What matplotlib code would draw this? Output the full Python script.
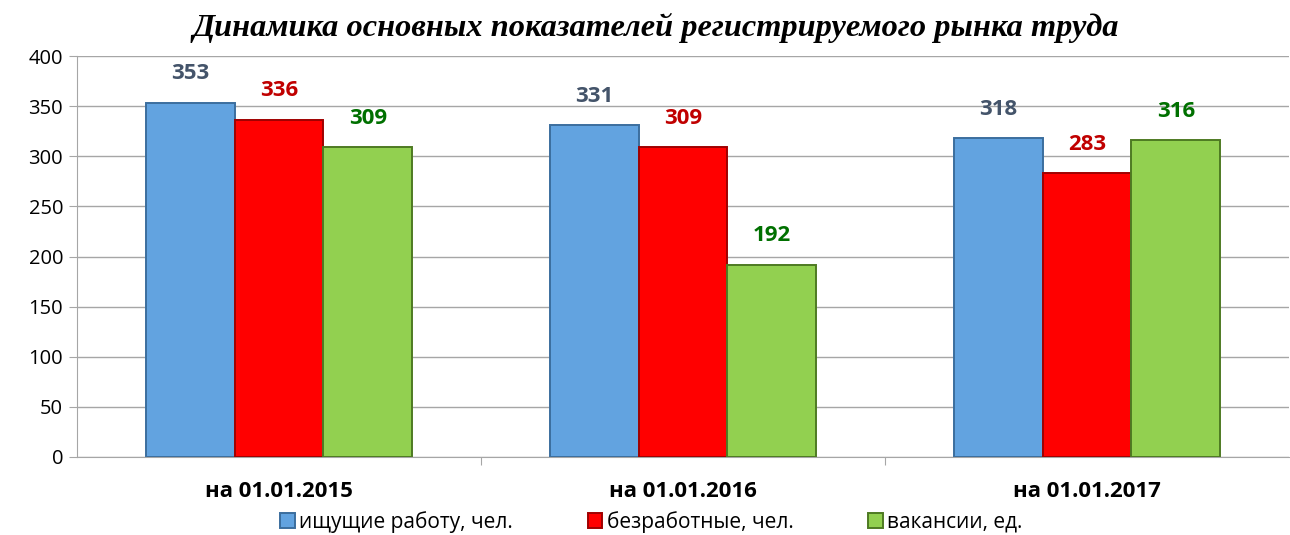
import matplotlib
matplotlib.use("Agg")
import matplotlib.pyplot as plt
import numpy as np

categories = ["на 01.01.2015", "на 01.01.2016", "на 01.01.2017"]
series_names = ["ищущие работу, чел.", "безработные, чел.", "вакансии, ед."]
seekers = [353, 331, 318]
unemployed = [336, 309, 283]
vacancies = [309, 192, 316]
title = "Динамика основных показателей регистрируемого рынка труда"

values = [seekers, unemployed, vacancies]
bar_colors = ["#62A3E0", "#FF0000", "#92D050"]
edge_colors = ["#3B6E9E", "#A00000", "#4E7A22"]
label_colors = ["#44546A", "#C00000", "#007000"]

plt.rcParams['font.family'] = ['Open Sans', 'DejaVu Sans']

fig = plt.figure(figsize=(12.9, 5.35), dpi=100)
ax = fig.add_axes([77/1290, 1-457/535, (1289-77)/1290, (457-56)/535])

x = np.arange(len(categories))
w = 0.22
for i, (vals, c, ec, lc, name) in enumerate(zip(values, bar_colors, edge_colors, label_colors, series_names)):
    pos = x + (i - 1) * w
    bars = ax.bar(pos, vals, width=w, color=c, edgecolor=ec, linewidth=1.4, label=name, zorder=3)
    for b, v in zip(bars, vals):
        ax.annotate(str(v), (b.get_x() + b.get_width()/2, v), xytext=(0, 21),
                    textcoords="offset points", ha="center", va="center",
                    fontsize=16, fontweight="bold", color=lc)

ax.set_xlim(-0.5, 2.5)
ax.set_ylim(0, 400)
ax.set_yticks(range(0, 401, 50))
ax.tick_params(axis='y', labelsize=14.5, length=6, color="#A6A6A6", pad=4)
ax.grid(axis='y', color="#A6A6A6", linewidth=1, zorder=0)
ax.set_axisbelow(True)
ax.set_xticks([0.5, 1.5])
ax.set_xticklabels([])
ax.tick_params(axis='x', length=6, color="#A6A6A6")
for i, cat in enumerate(categories):
    ax.text(i, -0.085, cat, transform=ax.get_xaxis_transform(), ha="center", va="center",
            fontsize=16, fontweight="bold")
for s in ["top", "right"]:
    ax.spines[s].set_visible(False)
ax.spines["left"].set_color("#A6A6A6")
ax.spines["bottom"].set_color("#A6A6A6")

fig.text(0.508, 1-28/535, title, ha="center", va="center", fontsize=23.3,
         fontweight="bold", fontstyle="italic", family=["Liberation Serif", "DejaVu Serif"])

leg = fig.legend(loc="center", bbox_to_anchor=(0.505, 1-522/535), ncol=3, frameon=False,
                 fontsize=15, handlelength=0.7, handleheight=0.7, handletextpad=0.2,
                 columnspacing=3.6)

fig.savefig("out.png", dpi=100)
